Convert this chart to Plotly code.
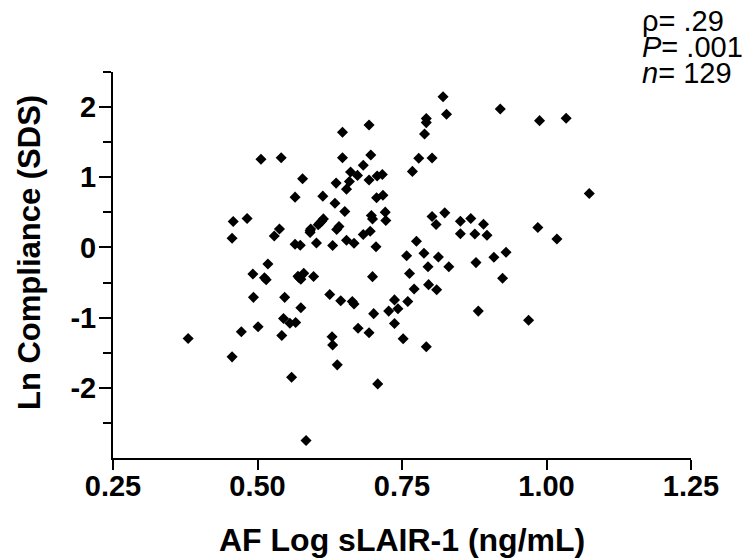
import plotly.graph_objects as go

# AF Log sLAIR-1 (ng/mL)
x_vals = [
    0.693, 0.647, 0.506, 0.541, 0.647, 0.696, 0.683, 0.661, 0.673, 0.707,
    0.716, 0.578, 0.636, 0.659, 0.693, 0.654, 0.565, 0.613, 0.634, 0.706,
    0.717, 0.651, 0.721, 0.722, 0.697, 0.699, 0.458, 0.482, 0.456, 0.538,
    0.529, 0.592, 0.591, 0.608, 0.614, 0.605, 0.641, 0.637, 0.695, 0.683,
    0.565, 0.574, 0.602, 0.630, 0.654, 0.667, 0.705, 0.518, 0.492, 0.515,
    0.512, 0.570, 0.575, 0.580, 0.597, 0.699, 0.493, 0.547, 0.625, 0.644,
    0.664, 0.667, 0.575, 0.737, 0.727, 0.743, 0.701, 0.545, 0.556, 0.566,
    0.472, 0.501, 0.542, 0.674, 0.693, 0.737, 0.380, 0.629, 0.630, 0.456,
    0.638, 0.559, 0.708, 0.584, 0.752, 0.821, 0.827, 0.792, 0.792, 0.789,
    0.779, 0.802, 0.768, 0.920, 0.988, 1.034, 1.074, 0.802, 0.824, 0.809,
    0.851, 0.869, 0.891, 0.851, 0.876, 0.897, 0.985, 1.018, 0.775, 0.758,
    0.788, 0.813, 0.795, 0.831, 0.878, 0.909, 0.930, 0.763, 0.771, 0.796,
    0.810, 0.924, 0.760, 0.792, 0.882, 0.969, 0.611, 0.572, 0.591,
]

# Ln Compliance (SDS)
y_vals = [
    1.746, 1.641, 1.256, 1.279, 1.279, 1.317, 1.170, 1.074, 1.027, 1.017,
    1.039, 0.979, 0.917, 0.939, 0.960, 0.831, 0.717, 0.731, 0.631, 0.707,
    0.743, 0.513, 0.503, 0.384, 0.456, 0.407, 0.370, 0.413, 0.131, 0.264,
    0.163, 0.264, 0.213, 0.350, 0.407, 0.324, 0.299, 0.256, 0.231, 0.184,
    0.046, 0.031, 0.064, 0.027, 0.103, 0.060, 0.010, -0.236, -0.379, -0.459,
    -0.433, -0.411, -0.454, -0.369, -0.414, -0.416, -0.711, -0.711, -0.669, -0.759,
    -0.769, -0.807, -0.859, -0.747, -0.907, -0.873, -0.943, -1.011, -1.079, -1.069,
    -1.201, -1.130, -1.254, -1.150, -1.214, -1.083, -1.297, -1.273, -1.390, -1.559,
    -1.673, -1.850, -1.944, -2.750, -1.301, 2.146, 1.899, 1.836, 1.779, 1.617,
    1.270, 1.274, 1.084, 1.974, 1.807, 1.841, 0.770, 0.441, 0.493, 0.327,
    0.374, 0.413, 0.331, 0.196, 0.193, 0.174, 0.284, 0.121, 0.089, -0.117,
    -0.083, -0.137, -0.276, -0.276, -0.216, -0.140, -0.069, -0.371, -0.593, -0.530,
    -0.604, -0.440, -0.769, -1.416, -0.907, -1.036, 0.374, -0.433, 0.239,
]

x_tickvals = [0.25, 0.50, 0.75, 1.00, 1.25]
x_ticktext = ["0.25", "0.50", "0.75", "1.00", "1.25"]
y_tickvals = [-2, -1, 0, 1, 2]
y_ticktext = ["-2", "-1", "0", "1", "2"]
y_minor_tickvals = [-2.5, -1.5, -0.5, 0.5, 1.5, 2.5]
stats_lines = ["\u03c1= .29", "<i>P</i>= .001", "<i>n</i>= 129"]

FONT = "Liberation Sans, Arial, sans-serif"

# page body has an 8px margin, so the figure is sized to fill the rest of the window
W, H = 743, 551
L, T, PW, PH = 105, 64, 578, 386

fig = go.Figure()
fig.add_trace(go.Scatter(
    x=x_vals, y=y_vals, mode="markers",
    marker=dict(symbol="diamond", size=8.5, color="black", line=dict(width=0)),
    hoverinfo="x+y", showlegend=False,
))

fig.update_layout(
    width=W, height=H,
    margin=dict(l=L, r=W - L - PW, t=T, b=H - T - PH, pad=0),
    paper_bgcolor="white", plot_bgcolor="white",
    font=dict(family=FONT, color="black"),
    xaxis=dict(
        range=[0.25, 1.25], showgrid=False, zeroline=False,
        showline=True, linecolor="black", linewidth=2,
        ticks="outside", ticklen=10, tickwidth=2, tickcolor="black",
        tickvals=x_tickvals, ticktext=x_ticktext, ticklabelstandoff=-9,
        tickfont=dict(family=FONT, size=29, color="black", weight="bold"),
    ),
    yaxis=dict(
        range=[-3.0, 2.5], showgrid=False, zeroline=False,
        showline=True, linecolor="black", linewidth=2,
        ticks="outside", ticklen=12, tickwidth=2, tickcolor="black",
        tickvals=y_tickvals, ticktext=y_ticktext, ticklabelstandoff=-3,
        tickfont=dict(family=FONT, size=29, color="black", weight="bold"),
        minor=dict(tickvals=y_minor_tickvals, ticklen=8,
                   tickwidth=2, tickcolor="black", ticks="outside", showgrid=False),
    ),
)

# axis titles
fig.add_annotation(
    text="AF Log sLAIR-1 (ng/mL)", xref="paper", yref="paper",
    x=0.5, y=0, yshift=-82, xanchor="center", yanchor="middle",
    showarrow=False, font=dict(family=FONT, size=32, color="black", weight="bold"),
)
fig.add_annotation(
    text="Ln Compliance (SDS)", xref="paper", yref="paper",
    x=0, xshift=-84, y=0.531, xanchor="center", yanchor="middle", textangle=-90,
    showarrow=False, font=dict(family=FONT, size=31, color="black", weight="bold"),
)

# statistics block
for i, line in enumerate(stats_lines):
    fig.add_annotation(
        text=line, xref="paper", yref="paper",
        x=(640 - 113) / PW, y=(458 - 21 - 26 * i) / PH,
        xanchor="left", yanchor="middle", showarrow=False,
        font=dict(family=FONT, size=29, color="black"),
    )

fig.write_html("out.html")
